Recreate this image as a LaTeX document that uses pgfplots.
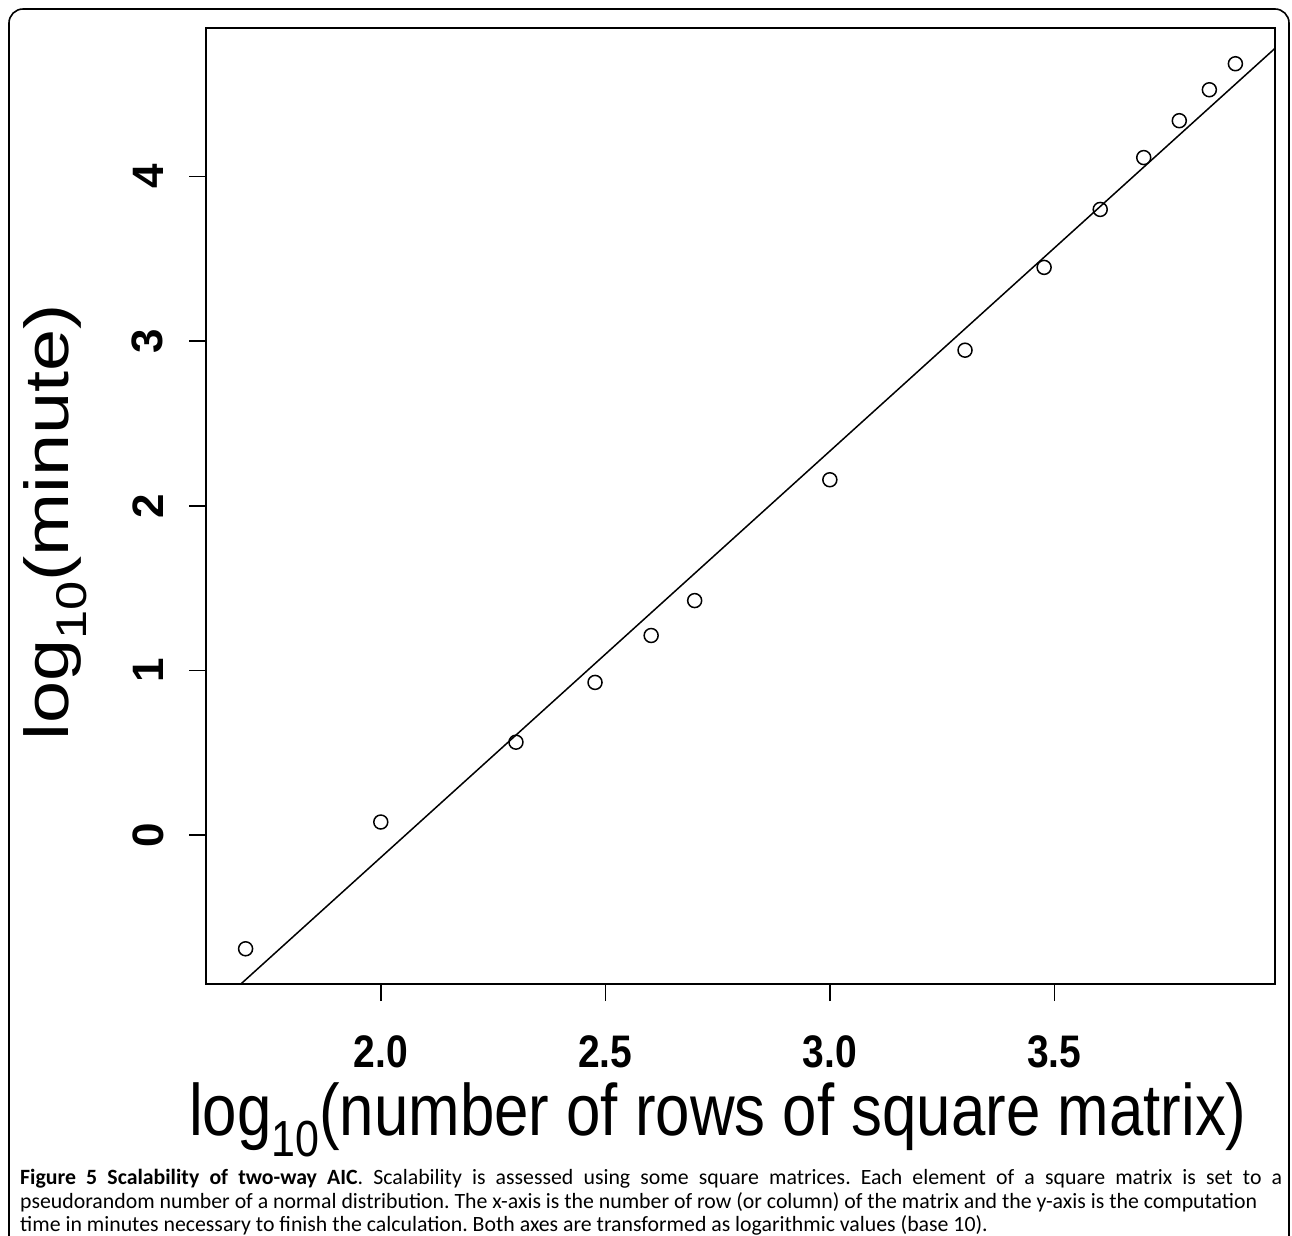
\documentclass[border=0pt]{standalone}
\usepackage{graphicx}
\usepackage{pgfplots}
\pgfplotsset{compat=1.18}
\usepackage{fontspec}
\setmainfont{Liberation Sans}
\newfontfamily\capfont{Carlito}
\newcommand\lsub[1]{\raisebox{-0.3em}{\fontsize{43}{43}\selectfont #1}}
\pgfplotstableread{
x y
1.69897 -0.691
2.00000 0.079
2.30103 0.564
2.47712 0.927
2.60206 1.212
2.69897 1.424
3.00000 2.158
3.30103 2.945
3.47712 3.448
3.60206 3.800
3.69897 4.115
3.77815 4.339
3.84510 4.527
3.90309 4.685
}\pts
\begin{document}
\frenchspacing
\begin{tikzpicture}
\useasboundingbox (0pt,0pt) rectangle (1292pt,-1235pt);
\draw[line width=1.6pt, rounded corners=14pt] (9pt,-1240pt) -- (9pt,-9pt) -- (1289pt,-9pt) -- (1289pt,-1240pt);
\begin{axis}[
  at={(206pt,-984pt)}, anchor=south west,
  scale only axis, width=1069pt, height=956pt,
  xmin=1.6108, xmax=3.9913, ymin=-0.905, ymax=4.902,
  axis line style={line width=1.6pt},
  tick align=outside, major tick length=17pt,
  every tick/.style={line width=1.6pt, black},
  xtick pos=bottom, ytick pos=left,
  xtick={2,2.5,3,3.5},
  xticklabels={\scalebox{1}[1.17]{2.0},\scalebox{1}[1.17]{2.5},\scalebox{1}[1.17]{3.0},\scalebox{1}[1.17]{3.5}},
  ytick={0,1,2,3,4}, yticklabels={0,1,2,3,4},
  xticklabel style={font=\bfseries\fontsize{39}{39}\selectfont, yshift=-31pt},
  yticklabel style={font=\bfseries\fontsize{44}{44}\selectfont, xshift=-22pt, rotate=90, anchor=south},
  xlabel={\scalebox{1}[1.18]{log\lsub{10}(number of rows of square matrix)}},
  ylabel={\scalebox{1.22}[1]{log\lsub{10}(minute)}},
  xlabel style={font=\fontsize{61.8}{61.8}\selectfont, at={(axis description cs:0.4788,-0.158)}, anchor=base},
  ylabel style={font=\fontsize{62}{62}\selectfont, at={(axis description cs:-0.141,0.483)}, anchor=center},
]
\addplot[only marks, mark=o, mark size=7pt, mark options={line width=1.5pt, black}] table {\pts};
\addplot[black, line width=1.5pt] coordinates {(1.55,-1.2466) (4.05,4.9234)};
\end{axis}
\node[anchor=north west, inner sep=0pt, text width=1262pt, align=justify,
      font=\capfont\fontsize{21.8}{23.5}\selectfont] at (20pt,-1169pt)
{\textbf{Figure 5 Scalability of two-way AIC}. Scalability is assessed using some square matrices. Each element of a square matrix is set to a\linebreak
pseudorandom number of a normal distribution. The x-axis is the number of row (or column) of the matrix and the y-axis is the computation\newline
time in minutes necessary to finish the calculation. Both axes are transformed as logarithmic values (base 10).};
\end{tikzpicture}
\end{document}
